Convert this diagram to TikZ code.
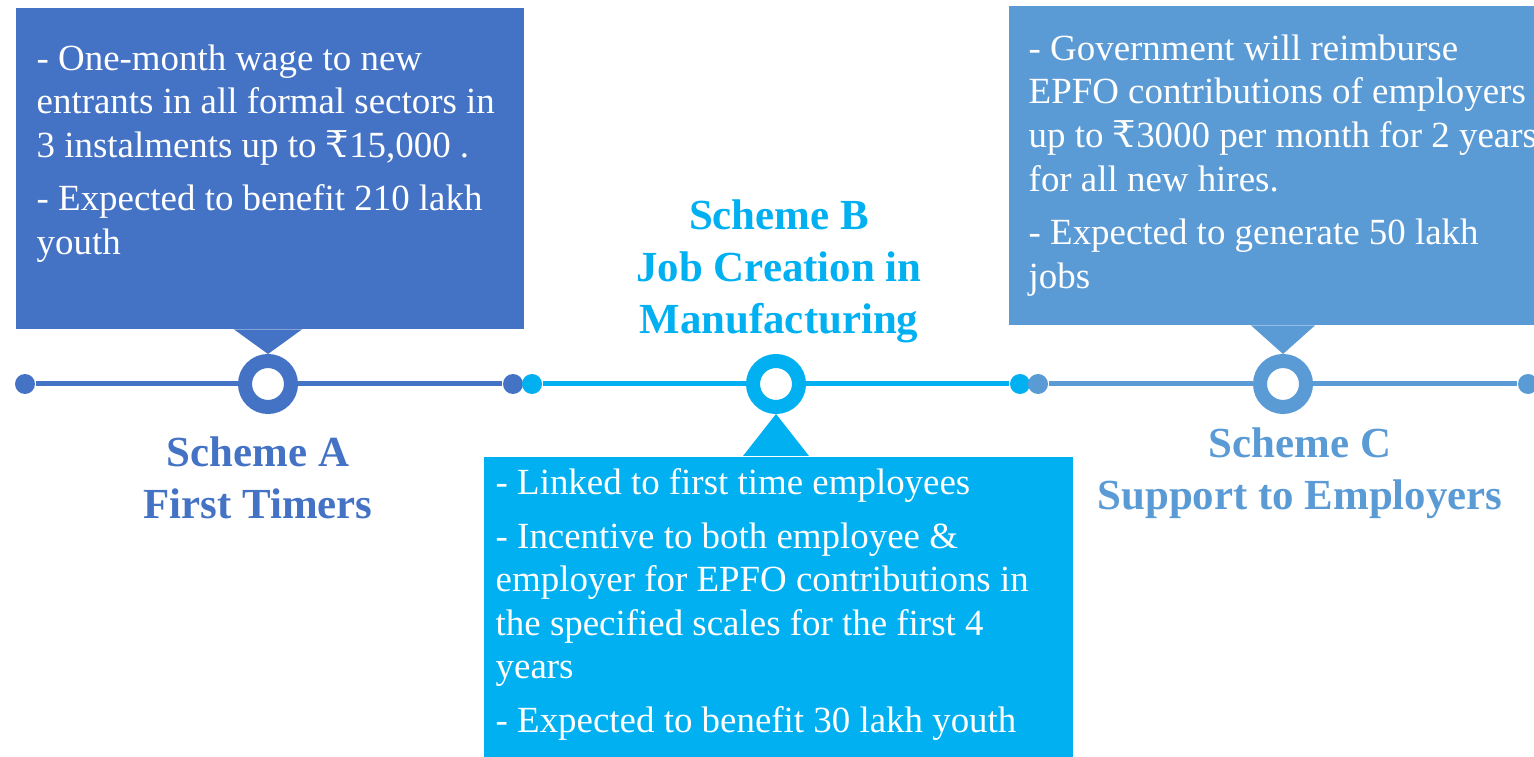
\documentclass[tikz,border=0pt]{standalone}
\usepackage{fontspec}
\setmainfont{Liberation Serif}
\newfontfamily\rupeefont{DejaVu Serif}
\newcommand{\rupee}{{\rupeefont ₹}}
\usepackage{xcolor}
\usetikzlibrary{positioning,calc}

\definecolor{schemeA}{HTML}{4472C4}
\definecolor{schemeB}{HTML}{00B0F0}
\definecolor{schemeC}{HTML}{5B9BD5}

\begin{document}
\begin{tikzpicture}[
    panel/.style={fill=#1, inner sep=0pt, anchor=north west},
    note/.style={text=white, align=left, inner sep=0pt, anchor=north west,
        font=\fontsize{10.5}{12.4}\selectfont},
    title/.style={text=#1, align=center, font=\fontsize{12.2}{14.8}\selectfont\bfseries},
    ring/.style={circle, draw=#1, line width=0.14cm, fill=white, minimum size=0.46cm, inner sep=0pt},
    dot/.style={circle, fill=#1, minimum size=0.2cm, inner sep=0pt},
    track/.style={draw=#1, line width=0.05cm}
]
    \useasboundingbox (0,0) rectangle (15.34,-7.57);
    \clip (0,0) rectangle (15.34,-7.57);

    % Coloured panels (C runs off the right edge, B off the bottom)
    \node[panel=schemeA, minimum width=5.08cm, minimum height=3.21cm] (boxA) at (0.15,-0.07) {};
    \node[panel=schemeB, minimum width=5.89cm, minimum height=3.40cm] (boxB) at (4.83,-4.56) {};
    \node[panel=schemeC, minimum width=5.60cm, minimum height=3.19cm] (boxC) at (10.08,-0.05) {};

    % Timeline: end dots and rings
    \node[dot=schemeA] (dA1) at (0.25,-3.84) {};
    \node[dot=schemeA] (dA2) at (5.13,-3.84) {};
    \node[dot=schemeB] (dB1) at (5.32,-3.84) {};
    \node[dot=schemeB] (dB2) at (10.20,-3.84) {};
    \node[dot=schemeC] (dC1) at (10.38,-3.84) {};
    \node[dot=schemeC] (dC2) at (15.28,-3.84) {};

    \node[ring=schemeA] (ringA) at (2.68,-3.84) {};
    \node[ring=schemeB] (ringB) at (7.76,-3.84) {};
    \node[ring=schemeC] (ringC) at (12.83,-3.84) {};

    \draw[track=schemeA] (dA1) -- (ringA);
    \draw[track=schemeA] (ringA) -- (dA2);
    \draw[track=schemeB] (dB1) -- (ringB);
    \draw[track=schemeB] (ringB) -- (dB2);
    \draw[track=schemeC] (dC1) -- (ringC);
    \draw[track=schemeC] (ringC) -- (dC2);

    % Pointers from the panels to the rings
    \fill[schemeA] ($(boxA.south -| ringA)+(-0.34,0)$) -- ($(boxA.south -| ringA)+(0.34,0)$) -- (ringA.north) -- cycle;
    \fill[schemeB] ($(boxB.north -| ringB)+(-0.33,0)$) -- ($(boxB.north -| ringB)+(0.33,0)$) -- (ringB.south) -- cycle;
    \fill[schemeC] ($(boxC.south -| ringC)+(-0.32,0)$) -- ($(boxC.south -| ringC)+(0.32,0)$) -- (ringC.north) -- cycle;

    % Panel texts
    \node[note] (noteA) at (0.36,-0.44) {- One-month wage to new\\
        entrants in all formal sectors in\\
        3 instalments up to \rupee15,000 .\\[2.8pt]
        - Expected to benefit 210 lakh\\
        youth};
    \node[note] (noteB) at (4.95,-4.68) {- Linked to first time employees\\[2.8pt]
        - Incentive to both employee \&\\
        employer for EPFO contributions in\\
        the specified scales for the first 4\\
        years\\[2.8pt]
        - Expected to benefit 30 lakh youth};
    \node[note] (noteC) at (10.28,-0.34) {- Government will reimburse\\
        EPFO contributions of employers\\
        up to \rupee3000 per month for 2 years\\
        for all new hires.\\[2.8pt]
        - Expected to generate 50 lakh\\
        jobs};

    % Scheme titles
    \node[title=schemeA] (titleA) at (2.58,-4.78) {Scheme A\\First Timers};
    \node[title=schemeB] (titleB) at (7.79,-2.71) {Scheme B\\Job Creation in\\Manufacturing};
    \node[title=schemeC] (titleC) at (13.00,-4.73) {Scheme C\\Support to Employers};
\end{tikzpicture}
\end{document}
